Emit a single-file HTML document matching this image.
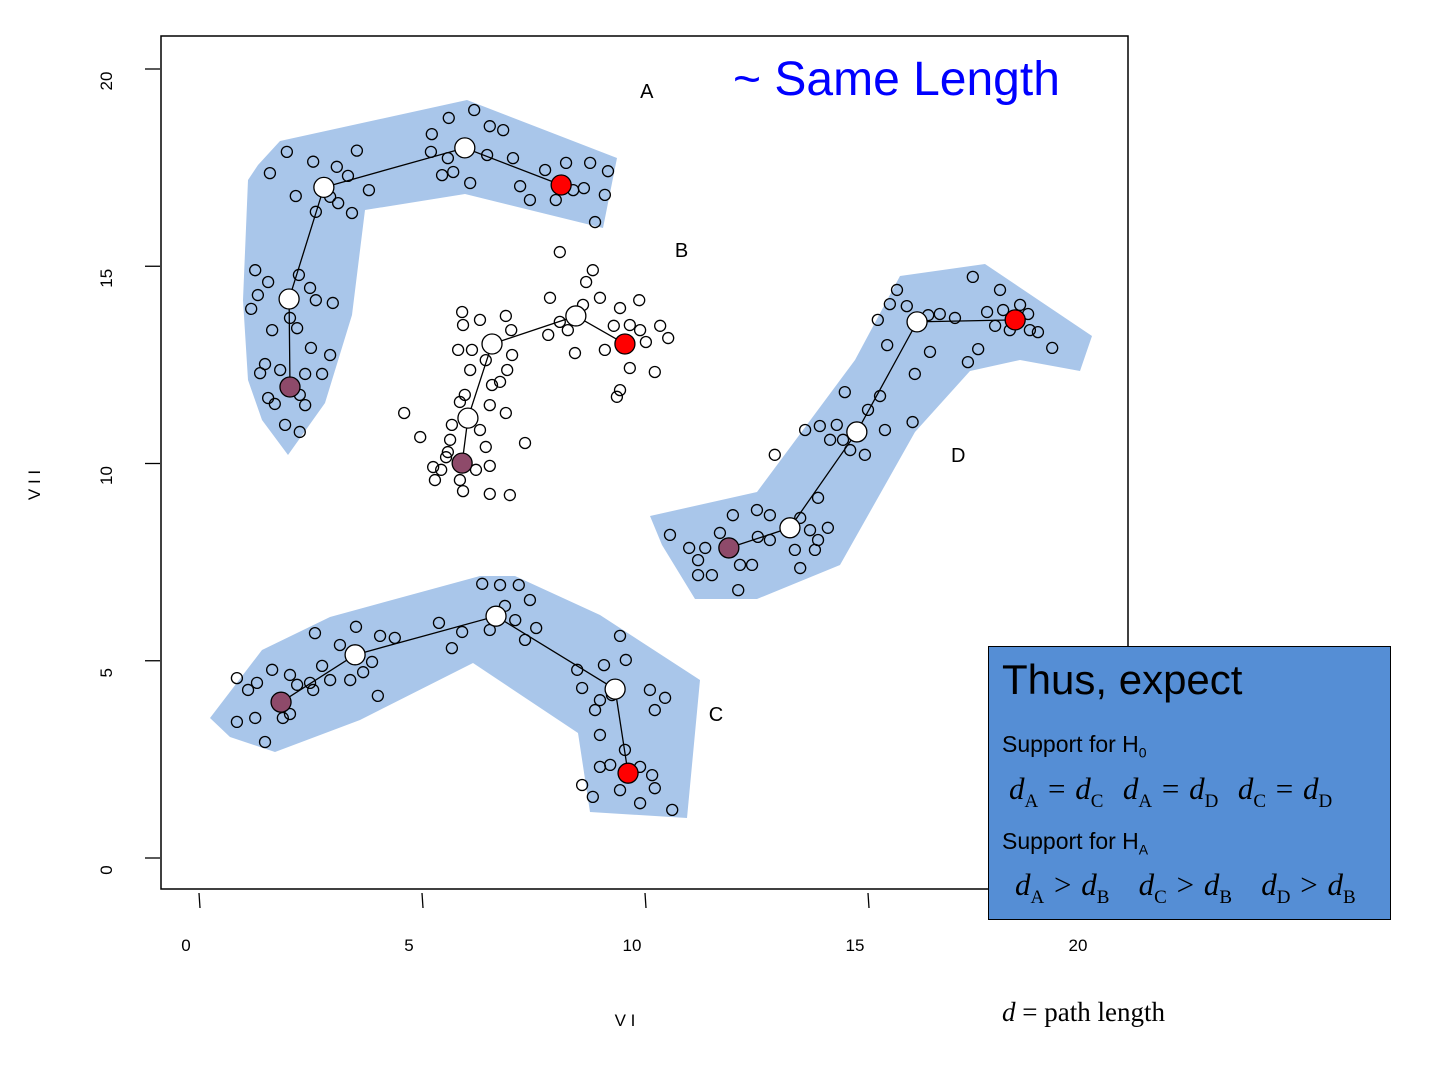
<!DOCTYPE html>
<html><head><meta charset="utf-8">
<style>
body{margin:0;width:1440px;height:1080px;background:#fff;overflow:hidden;position:relative;font-family:"Liberation Sans",sans-serif}
svg{position:absolute;left:0;top:0}
.box{position:absolute;left:988px;top:646px;width:401px;height:272px;background:#558ED5;border:1.5px solid #000}
.t{position:absolute;white-space:nowrap;color:#000}
.m{font-family:"Liberation Serif",serif;font-size:31px}
.m i{font-style:italic}
.m sub{font-size:19px;vertical-align:-8px}
</style></head><body>
<svg id="chart" width="1440" height="1080"></svg>
<div class="box">
 <div class="t" style="left:13px;top:9px;font-size:42px">Thus, expect</div>
 <div class="t" style="left:13px;top:84px;font-size:23px">Support for H<sub style="font-size:14px">0</sub></div>
 <div class="t m" style="left:20px;top:124px;word-spacing:2px"><i>d</i><sub>A</sub> = <i>d</i><sub>C</sub>&nbsp; <i>d</i><sub>A</sub> = <i>d</i><sub>D</sub>&nbsp; <i>d</i><sub>C</sub> = <i>d</i><sub>D</sub></div>
 <div class="t" style="left:13px;top:181px;font-size:23px">Support for H<sub style="font-size:14px">A</sub></div>
 <div class="t m" style="left:26px;top:220px;word-spacing:2px"><i>d</i><sub>A</sub> &gt; <i>d</i><sub>B</sub> &nbsp; <i>d</i><sub>C</sub> &gt; <i>d</i><sub>B</sub> &nbsp; <i>d</i><sub>D</sub> &gt; <i>d</i><sub>B</sub></div>
</div>
<div class="t" style="left:1002px;top:997px;font-family:'Liberation Serif',serif;font-size:27px"><i>d</i> = path length</div>
<script>
const xTicks=[0,5,10,15,20];
const yTicks=[0,5,10,15,20];
const pathA=[[2.04,11.94],[2.02,14.17],[2.8,17.0],[5.96,18.0],[8.12,17.06]];
const pathB=[[5.9,10.01],[6.03,11.15],[6.57,13.03],[8.45,13.74],[9.55,13.03]];
const pathC=[[1.84,3.95],[3.5,5.15],[6.66,6.13],[9.33,4.28],[9.62,2.15]];
const pathD=[[11.88,7.86],[13.25,8.37],[14.75,10.8],[16.1,13.59],[18.3,13.64]];
const pointsA=[[2.56,17.65],[3.09,17.52],[3.54,17.93],[3.34,17.29],[2.94,16.76],[3.43,16.35],[2.62,16.38],[2.17,16.78],[1.59,17.36],[1.97,17.9],[3.81,16.93],[3.12,16.6],
[5.22,18.35],[5.6,18.76],[6.17,18.96],[6.52,18.55],[7.04,17.74],[6.46,17.82],[5.58,17.74],[5.7,17.39],[6.08,17.11],[5.45,17.31],[6.82,18.45],[5.2,17.9],
[7.76,17.44],[8.23,17.62],[8.77,17.62],[9.17,17.41],[9.1,16.81],[8.88,16.12],[8.0,16.68],[7.42,16.68],[7.2,17.03],[8.39,16.93],[8.63,16.98],
[1.26,14.9],[1.17,13.92],[1.55,14.6],[2.24,14.78],[2.62,14.14],[2.04,13.69],[2.2,13.43],[1.64,13.38],[2.51,12.93],[3.0,14.07],[1.32,14.27],[2.49,14.45],
[1.48,12.52],[1.55,11.66],[1.7,11.51],[2.26,11.74],[2.38,12.27],[2.76,12.27],[2.94,12.75],[1.93,10.98],[2.26,10.8],[1.37,12.29],[1.82,12.37],[2.38,11.48]];
const pointsB=[[4.6,11.28],[4.96,10.67],[5.25,9.91],[5.43,9.84],[5.54,10.16],[5.85,9.58],[6.21,9.84],[6.52,9.94],[6.52,9.23],[6.97,9.2],[5.58,10.29],[5.29,9.58],[5.92,9.3],
[5.67,10.98],[5.63,10.6],[6.3,10.85],[6.52,11.48],[6.57,11.99],[6.43,10.42],[5.96,11.74],[6.88,11.28],[7.31,10.52],[5.85,11.56],
[5.9,13.84],[5.92,13.51],[5.81,12.88],[6.08,12.37],[6.3,13.64],[6.88,13.74],[7.0,13.38],[7.02,12.75],[6.91,12.37],[6.75,12.07],[6.43,12.62],[6.12,12.88],
[7.87,14.2],[7.83,13.26],[8.09,13.59],[8.61,14.02],[8.99,14.2],[9.44,13.94],[9.87,14.14],[8.43,12.8],[8.09,15.36],[8.68,14.6],[8.83,14.9],[8.27,13.38],
[9.1,12.88],[9.66,13.51],[10.02,13.08],[10.34,13.49],[10.52,13.18],[10.22,12.32],[9.66,12.42],[9.44,11.86],[9.37,11.69],[9.3,13.49],[9.89,13.38]];
const pointsC=[[0.85,4.56],[1.3,4.44],[1.64,4.77],[2.04,4.64],[2.2,4.39],[2.04,3.65],[1.88,3.55],[1.26,3.55],[0.85,3.45],[1.48,2.94],[2.49,4.44],[1.1,4.26],
[2.6,5.7],[3.16,5.4],[3.52,5.86],[4.06,5.63],[4.39,5.58],[3.88,4.97],[3.68,4.71],[4.01,4.11],[3.39,4.51],[2.94,4.51],[2.76,4.87],[2.56,4.26],
[5.38,5.96],[5.9,5.73],[6.35,6.95],[6.86,6.39],[7.17,6.92],[7.42,6.54],[7.09,6.03],[7.31,5.53],[6.52,5.78],[5.67,5.32],[7.56,5.83],[6.75,6.92],
[8.48,4.77],[8.59,4.31],[8.99,4.0],[8.88,3.75],[8.99,3.12],[9.44,5.63],[9.57,5.02],[10.11,4.26],[10.22,3.75],[10.45,4.06],[9.08,4.89],[9.26,4.13],
[8.59,1.85],[8.83,1.55],[8.99,2.31],[9.22,2.36],[9.89,2.31],[10.16,2.1],[9.89,1.39],[10.22,1.77],[10.61,1.22],[9.55,2.74],[9.44,1.72]];
const pointsD=[[10.56,8.19],[10.99,7.86],[11.19,7.55],[11.19,7.17],[11.5,7.17],[11.68,8.24],[11.97,8.69],[12.13,7.43],[12.09,6.79],[12.4,7.43],[12.53,8.14],[11.35,7.86],
[12.51,8.82],[12.8,8.69],[13.48,8.62],[13.7,8.31],[14.1,8.37],[13.88,8.06],[13.36,7.81],[12.8,8.06],[13.81,7.81],[13.48,7.35],[13.88,9.13],[12.91,10.22],
[13.92,10.95],[14.3,10.98],[14.44,10.6],[14.6,10.34],[14.48,11.81],[15.0,11.36],[15.27,11.71],[15.38,10.85],[14.93,10.22],[14.15,10.6],[13.59,10.85],[16.0,11.05],
[15.22,13.64],[15.43,13.0],[15.65,14.4],[15.87,13.99],[16.05,12.27],[16.35,13.76],[16.61,13.79],[16.39,12.83],[16.95,13.69],[17.24,12.57],[17.47,12.9],[15.49,14.04],
[17.35,14.73],[17.67,13.84],[17.96,14.4],[18.03,13.89],[17.85,13.49],[18.18,13.38],[18.63,13.38],[18.81,13.33],[19.13,12.93],[18.59,13.79],[18.41,14.02]];
const groupLabels=["A","B","C","D"];
const labelPos=[[9.89,19.27],[10.67,15.23],[11.43,3.47],[16.86,10.04]];

const X=v=>199+v*44.6, Y=v=>858-v*39.45;
const NS="http://www.w3.org/2000/svg";
const svg=document.getElementById('chart');
function mk(tag,attrs,parent){const e=document.createElementNS(NS,tag);for(const k in attrs)e.setAttribute(k,attrs[k]);(parent||svg).appendChild(e);return e;}

const hulls=[
"M280,141 L467,100 L617,158 L603,228 L465,194 L365,210 L352,315 L325,403 L288,455 L262,420 L248,380 L243,300 L248,180 L258,165 Z",
"M210,718 L262,650 L330,617 L480,576 L515,576 L600,615 L700,680 L687,818 L590,812 L578,733 L473,663 L360,720 L275,752 L230,737 Z",
"M650,516 L757,492 L855,360 L900,276 L985,264 L1092,336 L1080,371 L1020,360 L970,371 L915,432 L840,565 L757,599 L695,599 L662,545 Z"];
const hullNames=['hull-a','hull-c','hull-d'];
hulls.forEach((d,i)=>{const p=mk('path',{d:d,fill:'#A9C6EA'});

});

const frame=mk('rect',{x:161,y:36,width:967,height:853,fill:'none',stroke:'#000','stroke-width':1.5});



xTicks.forEach(v=>{const l=mk('line',{x1:X(v),y1:893,x2:X(v)+1,y2:908,stroke:'#000','stroke-width':1.3});


const t=mk('text',{x:X(v)-13,y:951,'font-size':17,'text-anchor':'middle'});t.textContent=v;

});
yTicks.forEach(v=>{const l=mk('line',{x1:145,y1:Y(v),x2:160,y2:Y(v),stroke:'#000','stroke-width':1.3});


const t=mk('text',{x:0,y:0,'font-size':17,'text-anchor':'middle',transform:`translate(112,${Y(v)+12}) rotate(-90)`});t.textContent=v;

});

const xt=mk('text',{x:625,y:1026,'font-size':17,'text-anchor':'middle'});xt.textContent='V I';


const yt=mk('text',{x:0,y:0,'font-size':17,'text-anchor':'middle',transform:'translate(40,485) rotate(-90)'});yt.textContent='V I I';



[pointsA,pointsB,pointsC,pointsD].forEach((pts,gi)=>{pts.forEach(p=>{
const c=mk('circle',{cx:X(p[0]),cy:Y(p[1]),r:5.5,fill:'none',stroke:'#000','stroke-width':1.3});

});});

[pathA,pathB,pathC,pathD].forEach((pth,gi)=>{
const pl=mk('polyline',{points:pth.map(p=>X(p[0])+','+Y(p[1])).join(' '),fill:'none',stroke:'#000','stroke-width':1.3});


pth.forEach((p,i)=>{const col=i===0?'#8E4A6A':(i===pth.length-1?'#FF0000':'#FFFFFF');
const c=mk('circle',{cx:X(p[0]),cy:Y(p[1]),r:10,fill:col,stroke:'#000','stroke-width':1.3});

});
const t=mk('text',{x:X(labelPos[gi][0]),y:Y(labelPos[gi][1]),'font-size':20});t.textContent=groupLabels[gi];

});

const st=mk('text',{x:733,y:95,'font-size':48,fill:'#0000FF'});st.textContent='~ Same Length';


</script>
</body></html>
